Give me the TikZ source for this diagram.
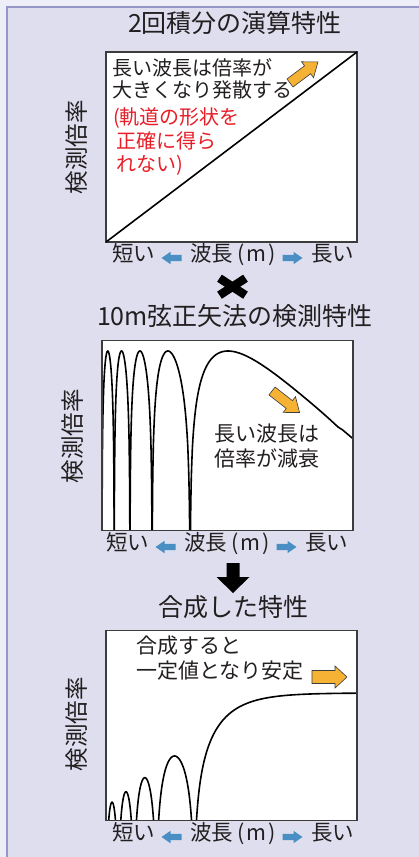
\documentclass[tikz,border=0pt]{standalone}
\usepackage{fontspec}
\setmainfont{Noto Sans CJK JP}
\definecolor{outerbg}{RGB}{238,238,248}
\definecolor{panelbg}{RGB}{222,222,238}
\definecolor{panelline}{RGB}{150,150,200}
\definecolor{ink}{RGB}{35,31,32}
\definecolor{frame}{RGB}{60,60,60}
\definecolor{warn}{RGB}{232,30,40}
\definecolor{orangefill}{RGB}{245,178,52}
\definecolor{bluefill}{RGB}{74,143,196}
\newcommand\blockarrow[8]{%
  \begin{scope}[shift={({#1},{#2})},rotate=#3]
    \path[#8] (0,-#5) -- ({#4-#6},-#5) -- ({#4-#6},-#7) -- (#4,0) -- ({#4-#6},#7) -- ({#4-#6},#5) -- (0,#5) -- cycle;
  \end{scope}}
\newcommand\axisrow[3]{%
  \node[axislbl] (#1short) at ({133.5+#2},#3) {短い};
  \blockarrow{181.5+#2}{#3}{180}{20}{3.2}{9}{6.2}{fill=bluefill}
  \node[axislbl] (#1wave) at ({233+#2},#3) {波長\hspace{4pt}(\hspace{2pt}m\hspace{2pt})};
  \blockarrow{282.5+#2}{#3}{0}{20}{3.2}{9}{6.2}{fill=bluefill}
  \node[axislbl] (#1long) at ({332.5+#2},#3) {長い};}
\begin{document}
\begin{tikzpicture}[x=1pt,y=-1pt,
  every node/.style={inner sep=0pt,outer sep=0pt,text=ink,text height=0.88em,text depth=0.12em},
  titletext/.style={font=\fontsize{25}{29}\selectfont},
  ylbl/.style={font=\fontsize{23.5}{28}\selectfont,rotate=90},
  axislbl/.style={font=\fontsize{21.5}{26}\selectfont},
  bodyA/.style={font=\fontsize{20}{24}\selectfont,anchor=west},
  bodyB/.style={font=\fontsize{21}{25}\selectfont,anchor=west},
  plotbox/.style={draw=frame,line width=1.2pt,fill=white,minimum width=251pt,minimum height=190pt},
  curve/.style={draw=black,line width=1.6pt,line join=round},
  orangearrow/.style={fill=orangefill,draw=frame,line width=0.6pt,line join=miter},
  declare function={
    phz(\k,\u)=180*\k+180*(sin(90*\u))^2;
    xr(\p)=126*(1-log10(\p/90));
    lsn(\p)=log10(max(abs(sin(\p)),0.001));
    hv(\p)=180+110.3*lsn(\p);
    hc(\p)=128+95*(lsn(\p)-log10(\p*pi/180));
  }]
\useasboundingbox (0,0) rectangle (419,857);
\fill[outerbg] (0,0) rectangle (419,857);
\fill[panelbg] (7,7) rectangle (419,857);
\draw[panelline,line width=1.5pt] (7,857) -- (7,7) -- (419,7);

% ---------- panel 1 ----------
\node[titletext] (t1) at (235,29) {2回積分の演算特性};
\node[plotbox] (b1) at (231.5,147) {};
\draw[curve] (b1.south west) -- (b1.north east);
\node[ylbl] (y1) at (82,147) {検測倍率};
\node[bodyA] (p1a) at (112,72) {長い波長は倍率が};
\node[bodyA] (p1b) at (112,94) {大きくなり発散する};
\node[bodyA,text=warn] (p1c) at (113,121) {(軌道の形状を};
\node[bodyA,text=warn] (p1d) at (116,145) {正確に得ら};
\node[bodyA,text=warn] (p1e) at (116,168) {れない)};
\blockarrow{290}{83}{37}{35}{5}{13}{10}{orangearrow}
\axisrow{a}{0}{258}

% ---------- times mark ----------
\draw[black,line width=8.5pt] (219.5,278.2) -- (245.5,295.2);
\draw[black,line width=8.5pt] (245.5,278.2) -- (219.5,295.2);

% ---------- panel 2 ----------
\node[titletext] (t2) at (235,322) {10m弦正矢法の検測特性};
\node[plotbox] (b2) at (227.5,435.5) {};
\begin{scope}
  \clip (b2.south west) rectangle (b2.north east);
  \draw[curve] plot[domain=0.1436:0.997,samples=160,variable=\u] ({102+xr(phz(0,\u))},{531-hv(phz(0,\u))});
  \foreach \k in {1,2,3,4}{
    \draw[curve] plot[domain=0.003:0.997,samples=140,variable=\u] ({102+xr(phz(\k,\u))},{531-hv(phz(\k,\u))});
  }
\end{scope}
\draw[frame,line width=1.2pt] (b2.south west) rectangle (b2.north east);
\node[ylbl] (y2) at (78,436) {検測倍率};
\node[bodyB] (p2a) at (214,438) {長い波長は};
\node[bodyB] (p2b) at (214,463) {倍率が減衰};
\blockarrow{272}{391}{-38}{35}{5}{13}{10}{orangearrow}
\axisrow{b}{-6}{547}

% ---------- down arrow ----------
\blockarrow{233}{563}{-90}{30}{6.5}{16}{16.5}{fill=black}

% ---------- panel 3 ----------
\node[titletext] (t3) at (233,613) {合成した特性};
\node[plotbox] (b3) at (231.5,725.5) {};
\begin{scope}
  \clip (b3.south west) rectangle (b3.north east);
  \draw[curve] plot[domain=0.1436:0.997,samples=160,variable=\u] ({106+xr(phz(0,\u))},{821-hc(phz(0,\u))});
  \foreach \k in {1,2,3,4}{
    \draw[curve] plot[domain=0.003:0.997,samples=140,variable=\u] ({106+xr(phz(\k,\u))},{821-hc(phz(\k,\u))});
  }
\end{scope}
\draw[frame,line width=1.2pt] (b3.south west) rectangle (b3.north east);
\node[ylbl] (y3) at (82,724) {検測倍率};
\node[bodyB] (p3a) at (136,650) {合成すると};
\node[bodyB] (p3b) at (136,675) {一定値となり安定};
\blockarrow{312}{677}{0}{35}{6.5}{12}{11}{orangearrow}
\axisrow{c}{0}{837}
\end{tikzpicture}
\end{document}
